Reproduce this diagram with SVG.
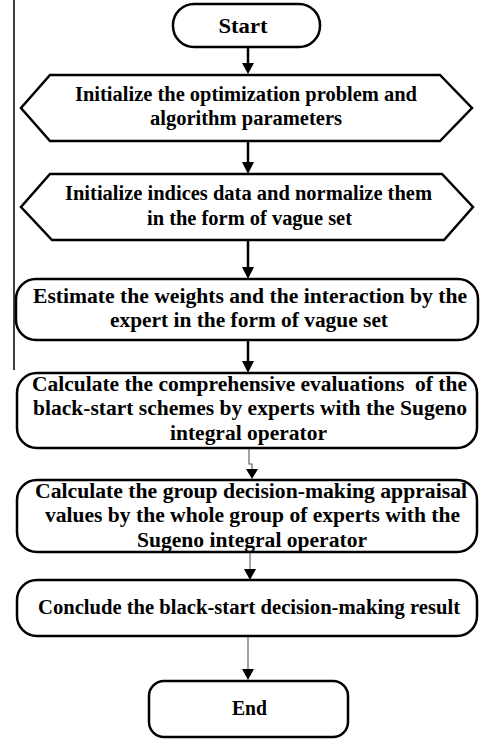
<svg xmlns="http://www.w3.org/2000/svg" width="480" height="740" viewBox="0 0 480 740">
<defs>
<style>
.box{fill:#fff;stroke:#000;stroke-width:2.5}
.t{font-family:"Liberation Serif","Times New Roman",serif;font-weight:bold;font-size:20px;fill:#000;text-anchor:middle}
.c{stroke:#000;stroke-width:2.5;fill:none}
.cg{stroke:#666;stroke-width:1.2;fill:none}
.ah{fill:#000}
</style>
</defs>
<rect width="480" height="740" fill="#fff"/>
<line x1="14" y1="0" x2="14" y2="370" stroke="#000" stroke-width="1.5"/>
<g id="connectors">
<line class="c" x1="248" y1="47" x2="248" y2="64"/>
<polygon class="ah" points="242,63 254,63 248,74"/>
<line class="c" x1="248" y1="141" x2="248" y2="163"/>
<polygon class="ah" points="242,162 254,162 248,174"/>
<line class="c" x1="248" y1="240" x2="248" y2="268"/>
<polygon class="ah" points="242,267 254,267 248,279"/>
<line class="c" x1="248" y1="340" x2="248" y2="362"/>
<polygon class="ah" points="242,361 254,361 248,373"/>
<polyline class="cg" points="249,448 249,464 252,464 252,470"/>
<polygon class="ah" points="246,469 258,469 252,479"/>
<line class="cg" x1="250" y1="552" x2="250" y2="570"/>
<polygon class="ah" points="244,569 256,569 250,580"/>
<line class="cg" x1="248" y1="636" x2="248" y2="670"/>
<polygon class="ah" points="242,669 254,669 248,680"/>
</g>
<g id="start">
<rect class="box" x="173" y="4" width="147" height="43" rx="21" ry="21"/>
<text class="t" x="243" y="33" textLength="49" lengthAdjust="spacingAndGlyphs">Start</text>
</g>
<g id="init-problem">
<polygon class="box" points="50,75 440,75 472,108 440,141 50,141 21,108"/>
<text class="t" x="246" y="101" textLength="342" lengthAdjust="spacingAndGlyphs">Initialize the optimization problem and</text>
<text class="t" x="246" y="125" textLength="192" lengthAdjust="spacingAndGlyphs">algorithm parameters</text>
</g>
<g id="init-indices">
<polygon class="box" points="50,174 442,174 473,207 444,240 52,240 21,207"/>
<text class="t" x="248.5" y="200" textLength="367" lengthAdjust="spacingAndGlyphs">Initialize indices data and normalize them</text>
<text class="t" x="249.5" y="225" textLength="205" lengthAdjust="spacingAndGlyphs">in the form of vague set</text>
</g>
<g id="estimate">
<rect class="box" x="16" y="279" width="462" height="61" rx="20" ry="20"/>
<text class="t" x="250" y="303" textLength="434" lengthAdjust="spacingAndGlyphs">Estimate the weights and the interaction by the</text>
<text class="t" x="249" y="327" textLength="278" lengthAdjust="spacingAndGlyphs">expert in the form of vague set</text>
</g>
<g id="calc-eval">
<rect class="box" x="17" y="373" width="460" height="75" rx="20" ry="20"/>
<text class="t" x="249.5" y="391" textLength="435" lengthAdjust="spacingAndGlyphs" xml:space="preserve">Calculate the comprehensive evaluations  of the</text>
<text class="t" x="250" y="415" textLength="434" lengthAdjust="spacingAndGlyphs">black-start schemes by experts with the Sugeno</text>
<text class="t" x="248.5" y="440" textLength="157" lengthAdjust="spacingAndGlyphs">integral operator</text>
</g>
<g id="calc-group">
<rect class="box" x="17" y="480" width="460" height="72" rx="20" ry="20"/>
<text class="t" x="251" y="498" textLength="432" lengthAdjust="spacingAndGlyphs">Calculate the group decision-making appraisal</text>
<text class="t" x="252.5" y="522" textLength="415" lengthAdjust="spacingAndGlyphs">values by the whole group of experts with the</text>
<text class="t" x="252" y="547" textLength="230" lengthAdjust="spacingAndGlyphs">Sugeno integral operator</text>
</g>
<g id="conclude">
<rect class="box" x="17" y="580" width="460" height="56" rx="20" ry="20"/>
<text class="t" x="249" y="614" textLength="422" lengthAdjust="spacingAndGlyphs">Conclude the black-start decision-making result</text>
</g>
<g id="end">
<rect class="box" x="149" y="681" width="199" height="56" rx="15" ry="15"/>
<text class="t" x="249.5" y="715" textLength="35" lengthAdjust="spacingAndGlyphs">End</text>
</g>
</svg>
